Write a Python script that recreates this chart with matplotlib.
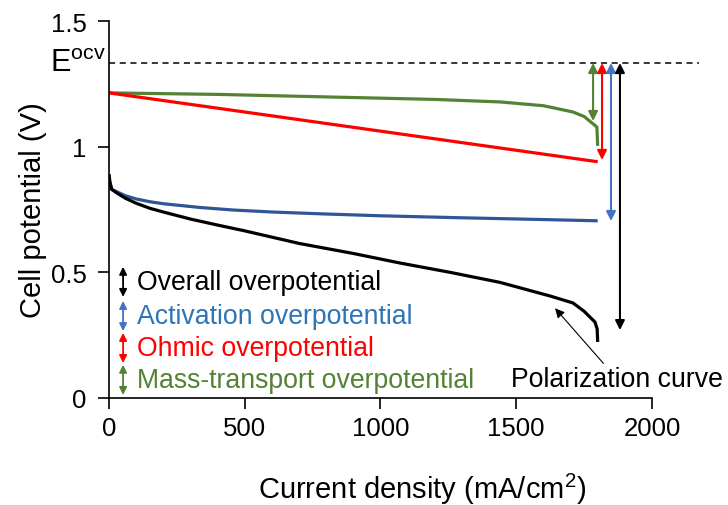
import matplotlib
matplotlib.use("Agg")
import matplotlib.pyplot as plt

plt.rcParams['font.family'] = ['Liberation Sans', 'DejaVu Sans']
plt.rcParams['mathtext.fontset'] = 'custom'
plt.rcParams['mathtext.rm'] = 'Liberation Sans'

# ---- data ----
E_ocv = 1.333

j_pol = [0, 3, 10, 30, 60, 100, 150, 200, 300, 400, 500, 700, 900, 1072, 1256, 1440, 1624, 1709, 1750, 1790, 1798, 1800]
v_pol = [0.89, 0.86, 0.83, 0.815, 0.795, 0.775, 0.755, 0.74, 0.712, 0.688, 0.665, 0.615, 0.575, 0.537, 0.50, 0.46, 0.406, 0.378, 0.345, 0.302, 0.275, 0.223]

j_act = [0, 3, 10, 30, 60, 100, 150, 200, 335, 457, 600, 800, 1000, 1300, 1600, 1800]
v_act = [0.89, 0.86, 0.83, 0.82, 0.805, 0.792, 0.781, 0.773, 0.758, 0.748, 0.740, 0.732, 0.725, 0.717, 0.71, 0.705]

j_ohm = [0, 1800]
v_ohm = [1.214, 0.94]

j_mt = [0, 400, 800, 1200, 1440, 1600, 1709, 1750, 1775, 1797, 1800]
v_mt = [1.214, 1.208, 1.198, 1.188, 1.178, 1.163, 1.138, 1.12, 1.098, 1.078, 1.003]

# right-hand overpotential arrows
arrow_x = [1783, 1816, 1849, 1882]
arrow_bottom = [1.102, 0.947, 0.704, 0.27]

legend_labels = ["Overall overpotential", "Activation overpotential",
                 "Ohmic overpotential", "Mass-transport overpotential"]
legend_y = [0.462, 0.326, 0.199, 0.072]

xticks = [0, 500, 1000, 1500, 2000]
yticks = [0, 0.5, 1, 1.5]

# ---- styles ----
c_black = "#000000"
c_blue_line = "#2F5597"
c_blue = "#4472C4"
c_blue_text = "#2E75B6"
c_red = "#FF0000"
c_green = "#548235"

fig = plt.figure(figsize=(7.28, 5.06), dpi=100)
ax = fig.add_axes([0.1497, 0.2115, 0.7459, 0.7450])

ax.plot(j_mt, v_mt, color=c_green, lw=2.3, solid_capstyle='butt')
ax.plot(j_ohm, v_ohm, color=c_red, lw=2.3, solid_capstyle='butt')
ax.plot(j_act, v_act, color=c_blue_line, lw=2.3, solid_capstyle='butt')
ax.plot(j_pol, v_pol, color=c_black, lw=2.3, solid_capstyle='butt')

ax.set_xlim(0, 2000)
ax.set_ylim(0, 1.5)
ax.set_xticks(xticks)
ax.set_xticklabels([str(t) for t in xticks])
ax.set_yticks(yticks)
ax.set_yticklabels(["0", "0.5", "1", "1.5"])
ax.tick_params(direction='out', length=8, width=1.2, labelsize=18.5)
ax.tick_params(axis='x', pad=5)
ax.tick_params(axis='y', pad=8)
for s in ['top', 'right']:
    ax.spines[s].set_visible(False)
for s in ['left', 'bottom']:
    ax.spines[s].set_linewidth(1.2)

ax.set_xlabel("Current density (mA/cm$^2$)", fontsize=21, labelpad=22, x=0.576)
ax.set_ylabel("Cell potential (V)", fontsize=21, labelpad=3)

# E_ocv dashed line
ax.plot([0, 2173], [E_ocv, E_ocv], color='black', lw=1.1, ls=(0, (4, 3)), clip_on=False)
ax.text(-12, E_ocv, "E$^{\\mathrm{ocv}}$", fontsize=22, ha='right', va='center')

# overpotential arrows on the right
arrow_colors = [c_green, c_red, c_blue, c_black]
for x, yb, c in zip(arrow_x, arrow_bottom, arrow_colors):
    ax.annotate("", xy=(x, yb), xytext=(x, E_ocv),
                arrowprops=dict(arrowstyle='<|-|>', color=c, lw=1.5,
                                mutation_scale=14, shrinkA=0, shrinkB=0),
                annotation_clip=False)

# legend-like labels with small double arrows
legend_arrow_colors = [c_black, c_blue, c_red, c_green]
legend_text_colors = [c_black, c_blue_text, c_red, c_green]
for lab, y, ca, ct in zip(legend_labels, legend_y, legend_arrow_colors, legend_text_colors):
    ax.annotate("", xy=(52, y - 0.06), xytext=(52, y + 0.06),
                arrowprops=dict(arrowstyle='<|-|>', color=ca, lw=1.3,
                                mutation_scale=11, shrinkA=0, shrinkB=0))
    ax.text(103, y, lab, color=ct, fontsize=19.2, ha='left', va='center')

# polarization curve annotation
ax.annotate("Polarization curve", xy=(1643, 0.357), xytext=(1872, 0.075),
            fontsize=19.2, ha='center', va='center', annotation_clip=False,
            arrowprops=dict(arrowstyle='-|>', color='black', lw=0.8,
                            mutation_scale=14, shrinkA=0, shrinkB=0))

fig.savefig("out.png", dpi=100)
